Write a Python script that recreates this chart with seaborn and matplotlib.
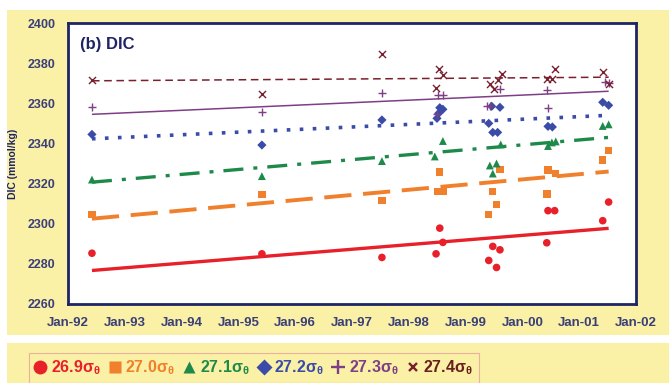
import matplotlib
matplotlib.use("Agg")
import matplotlib.pyplot as plt
import matplotlib.dates as mdates
from matplotlib.patches import Rectangle
from matplotlib.lines import Line2D
import numpy as np
import pandas as pd
import seaborn as sns

# ---- observations: DIC (umol/kg) on six isopycnal surfaces ----
s269_dates = ["1992-06-03", "1995-06-01", "1997-07-12", "1998-06-25", "1998-07-19", "1998-08-08",
              "1999-06-25", "1999-08-10", "1999-05-30", "1999-07-19", "2000-06-06", "2000-06-14",
              "2000-07-27", "2001-06-01", "2001-07-09"]
s269_dic = [2285.3, 2285.0, 2283.2, 2285.0, 2297.8, 2290.7,
            2288.7, 2287.0, 2281.7, 2278.2, 2290.5, 2306.5,
            2306.5, 2301.5, 2310.8]

s270_dates = ["1992-06-03", "1995-06-01", "1997-07-12", "1998-07-06", "1998-08-08", "1998-07-19",
              "1999-06-25", "1999-07-19", "1999-05-30", "1999-08-10", "2000-06-07", "2000-06-14",
              "2000-08-03", "2001-06-01", "2001-07-09"]
s270_dic = [2304.5, 2314.5, 2311.5, 2316.0, 2316.0, 2325.8,
            2316.0, 2309.5, 2304.5, 2327.0, 2314.8, 2326.7,
            2325.0, 2331.7, 2336.5]

s271_dates = ["1992-06-03", "1995-06-01", "1997-07-12", "1998-06-17", "1998-08-08",
              "1999-06-06", "1999-07-19", "1999-06-25", "1999-08-15", "2000-06-14", "2000-07-09",
              "2000-08-03", "2001-06-01", "2001-07-09"]
s271_dic = [2322.0, 2323.7, 2331.2, 2333.5, 2341.2,
            2329.0, 2330.0, 2325.0, 2339.5, 2338.7, 2340.5,
            2341.0, 2348.7, 2349.5]

s272_dates = ["1992-06-03", "1995-06-01", "1997-07-12", "1998-07-01", "1998-07-19", "1998-08-08",
              "1998-07-12", "1999-06-18", "1999-08-10", "1999-05-30", "1999-06-25", "1999-07-26",
              "2000-06-14", "2000-07-12", "2001-06-01", "2001-07-09"]
s272_dic = [2344.5, 2339.2, 2351.7, 2352.5, 2357.8, 2357.0,
            2355.0, 2358.5, 2358.0, 2350.0, 2345.5, 2345.5,
            2348.5, 2348.2, 2360.5, 2359.0]

s273_dates = ["1992-06-03", "1995-06-01", "1997-07-12", "1998-07-06", "1998-08-08", "1998-07-01",
              "1999-05-19", "1999-06-06", "1999-08-10", "2000-06-07", "2000-06-14",
              "2001-06-14", "2001-07-09"]
s273_dic = [2358.3, 2355.7, 2365.0, 2364.0, 2364.0, 2354.5,
            2358.7, 2358.7, 2367.3, 2366.5, 2357.8,
            2370.5, 2370.0]

s274_dates = ["1992-06-03", "1995-06-01", "1997-07-12", "1998-07-12", "1998-08-08", "1998-06-25",
              "1999-06-06", "1999-07-01", "1999-07-26", "1999-08-22", "2000-06-07", "2000-07-09",
              "2000-07-27", "2001-06-01", "2001-07-09"]
s274_dic = [2371.5, 2364.5, 2384.5, 2377.0, 2374.0, 2367.8,
            2369.5, 2367.2, 2371.5, 2374.5, 2372.0, 2372.0,
            2377.3, 2375.5, 2369.8]

# linear trends: value at first and last cruise
trend_dates = ["1992-06-03", "2001-07-09"]
trend_269 = [2276.7, 2297.7]
trend_270 = [2302.5, 2326.0]
trend_271 = [2320.7, 2343.0]
trend_272 = [2342.3, 2354.0]
trend_273 = [2354.5, 2366.0]
trend_274 = [2371.2, 2373.0]

labels = ["26.9", "27.0", "27.1", "27.2", "27.3", "27.4"]
y_ticks = [2260, 2280, 2300, 2320, 2340, 2360, 2380, 2400]

# ---- styling ----
sns.set_style("white")
plt.rcParams["font.family"] = ["Liberation Sans", "DejaVu Sans"]
plt.rcParams["mathtext.fontset"] = "custom"
plt.rcParams["mathtext.bf"] = "Liberation Sans:bold"
plt.rcParams["mathtext.rm"] = "Liberation Sans:bold"
plt.rcParams["mathtext.default"] = "bf"

NAVY = "#1E2466"
TICKC = "#3A3F78"
YELLOW = "#FAF0A6"
colors = ["#E8202A", "#F0802C", "#1E8A4A", "#3A4CA8", "#7E3F86", "#7A1F2E"]
text_colors = ["#E8202A", "#F0802C", "#1E8A4A", "#3A4CA8", "#7E3F86", "#6A1F1F"]

fig = plt.figure(figsize=(6.69, 3.83), dpi=100)
fig.patch.set_facecolor("white")
fig.patches.append(Rectangle((7 / 669, 48 / 383), 1 - 7 / 669, 325 / 383,
                             transform=fig.transFigure, facecolor=YELLOW,
                             edgecolor="none", zorder=-10))
fig.patches.append(Rectangle((7 / 669, 0), 1 - 7 / 669, 40 / 383,
                             transform=fig.transFigure, facecolor=YELLOW,
                             edgecolor="none", zorder=-10))

ax = fig.add_axes([68 / 669, 1 - 304 / 383, 568 / 669, 281 / 383])
ax.set_facecolor("white")

series = [
    (s269_dates, s269_dic, trend_269, "o", 30, dict(linestyle="-", linewidth=2.4)),
    (s270_dates, s270_dic, trend_270, "s", 28, dict(linestyle=(0, (7, 3)), linewidth=2.8)),
    (s271_dates, s271_dic, trend_271, "^", 32, dict(linestyle=(0, (6, 3, 1.2, 3)), linewidth=2.4)),
    (s272_dates, s272_dic, trend_272, "D", 22, dict(linestyle=(0, (1.0, 2.6)), linewidth=2.6)),
    (s273_dates, s273_dic, trend_273, "+", 30, dict(linestyle="-", linewidth=1.1)),
    (s274_dates, s274_dic, trend_274, "x", 26, dict(linestyle=(0, (5, 3)), linewidth=1.1)),
]

td = pd.to_datetime(trend_dates)
for (dates, dic, trend, mk, size, lstyle), col in zip(series, colors):
    sns.lineplot(x=td, y=trend, ax=ax, color=col, zorder=2,
                 solid_capstyle="butt", dash_capstyle="butt", **lstyle)
    if mk in ("+", "x"):
        sns.scatterplot(x=pd.to_datetime(dates), y=dic, ax=ax, marker=mk, s=size,
                        color=col, linewidth=1.0, zorder=3)
    else:
        sns.scatterplot(x=pd.to_datetime(dates), y=dic, ax=ax, marker=mk, s=size,
                        color=col, edgecolor="none", linewidth=0, zorder=3)

ax.set_xlim(pd.Timestamp("1992-01-01"), pd.Timestamp("2002-01-01"))
ax.set_ylim(2260, 2400)
ax.set_yticks(y_ticks)
ax.xaxis.set_major_locator(mdates.YearLocator())
ax.xaxis.set_major_formatter(mdates.DateFormatter("%b-%y"))
ax.set_xlabel("")
ax.set_ylabel("DIC (mmol/kg)", fontsize=7.5, fontweight="bold", color=NAVY)
ax.yaxis.set_label_coords(-50 / 568, 0.5)

for sp in ax.spines.values():
    sp.set_color(NAVY)
    sp.set_linewidth(2.0)
ax.tick_params(axis="x", direction="in", length=4, width=1.5, color=NAVY,
               labelsize=9.5, labelcolor=TICKC, pad=9)
ax.tick_params(axis="y", direction="out", length=3, width=1.5, color=NAVY,
               labelsize=9, labelcolor=TICKC, pad=6)
for lab in ax.get_xticklabels() + ax.get_yticklabels():
    lab.set_fontweight("bold")

ax.text(0.021, 0.925, "(b) DIC", transform=ax.transAxes, fontsize=12,
        fontweight="bold", color=NAVY, va="center", ha="left")

# legend strip
markers = ["o", "s", "^", "D", "+", "x"]
msizes = [10, 8, 9, 8, 10, 6]
handles = []
for mk, ms, col in zip(markers, msizes, colors):
    if mk in ("+", "x"):
        h = Line2D([], [], linestyle="none", marker=mk, markersize=ms,
                   markeredgewidth=1.7, color=col)
    else:
        h = Line2D([], [], linestyle="none", marker=mk, markersize=ms,
                   markerfacecolor=col, markeredgecolor="none", color=col)
    handles.append(h)
leg_labels = [lab + r"$\sigma_\theta$" for lab in labels]
leg = fig.legend(handles, leg_labels, loc="center", bbox_to_anchor=(254 / 669, 15 / 383),
                 ncol=6, frameon=True, handlelength=0.7, handletextpad=0.3,
                 columnspacing=0.55, borderpad=0.35, labelcolor=text_colors,
                 prop={"weight": "bold", "size": 11.5})
leg.get_frame().set_facecolor(YELLOW)
leg.get_frame().set_edgecolor("#E8A0A0")
leg.get_frame().set_linewidth(0.8)
leg.get_frame().set_boxstyle("square", pad=0.0)

fig.savefig("out.png", dpi=100, facecolor=fig.get_facecolor())
